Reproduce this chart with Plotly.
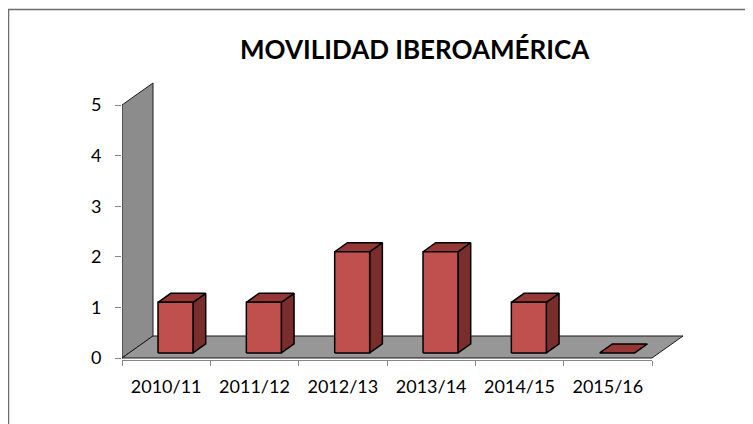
import plotly.graph_objects as go

# ---- data ----
categories = ["2010/11", "2011/12", "2012/13", "2013/14", "2014/15", "2015/16"]
values = [1, 1, 2, 2, 1, 0]
y_tick_values = [0, 1, 2, 3, 4, 5]
title_text = "MOVILIDAD IBEROAMÉRICA"

# ---- 3D-look styling constants (data units) ----
W, H = 753, 424
OFF = 8                         # page body margin offset
DX, DY = 0.351, 0.435          # full depth offset
F0, F1 = 0.23, 0.64            # bar front/back depth fractions
BAR_LEFT, BAR_W = 0.327, 0.396
Y_MIN, Y_MAX = -0.04, 5.6
X2_MAX = 6.6
WALL_TOP = max(y_tick_values)
N = len(categories)

FRONT = "#C0504D"
TOP = "#953735"
SIDE = "#7A2E2C"
WALL = "#8C8C8C"
FLOOR = "#979797"
EDGE = "#000000"

fig = go.Figure()


def poly(xs, ys, fill, line_color=EDGE, lw=1.5):
    fig.add_trace(go.Scatter(
        x=list(xs) + [xs[0]], y=list(ys) + [ys[0]], xaxis="x2", yaxis="y",
        mode="lines", fill="toself", fillcolor=fill,
        line=dict(color=line_color, width=lw), hoverinfo="skip", showlegend=False))


# back wall and floor
poly([0, 0, DX, DX], [0, WALL_TOP, WALL_TOP + DY, DY], WALL, "#1a1a1a", 1)
poly([0, N, N + DX, DX], [0, 0, DY, DY], FLOOR, "#1a1a1a", 1)

# bars
ddx, ddy = (F1 - F0) * DX, (F1 - F0) * DY
for i, v in enumerate(values):
    xl = i + BAR_LEFT + F0 * DX
    xr = xl + BAR_W
    b0 = F0 * DY
    top = b0 + v
    if v > 0:
        poly([xr, xr, xr + ddx, xr + ddx], [b0, top, top + ddy, b0 + ddy], SIDE)
    poly([xl, xr, xr + ddx, xl + ddx], [top, top, top + ddy, top + ddy], TOP)
    if v > 0:
        poly([xl, xr, xr, xl], [b0, b0, top, top], FRONT)

# category axis carrier (invisible) so the xy subplot draws its labels
fig.add_trace(go.Scatter(x=[0.5], y=[0], xaxis="x", yaxis="y", mode="markers",
                         marker=dict(opacity=0), hoverinfo="skip", showlegend=False))

# pixel geometry -> domains
x_left_px = 122 - OFF
px_per_x = 88.333
x_dom = [x_left_px / W, (x_left_px + N * px_per_x) / W]
x2_dom = [x_left_px / W, (x_left_px + X2_MAX * px_per_x) / W]
y0_px = 358 - OFF
px_per_y = 50.6
y_bot_px = y0_px - Y_MIN * px_per_y
y_top_px = y0_px - Y_MAX * px_per_y
y_dom = [(H - y_bot_px) / H, (H - y_top_px) / H]

font_family = "Lato, Carlito, 'Open Sans', sans-serif"

fig.update_layout(
    width=W, height=H,
    margin=dict(l=0, r=0, t=0, b=0, autoexpand=False),
    paper_bgcolor="white", plot_bgcolor="rgba(0,0,0,0)",
    showlegend=False,
    font=dict(family=font_family, size=18, color="#000000"),
    xaxis=dict(domain=x_dom, range=[0, N], anchor="y", automargin=False,
               tickvals=[i + 0.5 for i in range(N)], ticktext=categories,
               ticks="", showline=True, linecolor="#868686", linewidth=1,
               ticklabelstandoff=10,
               minor=dict(tick0=0, dtick=1, ticks="outside", ticklen=5,
                          tickcolor="#868686", tickwidth=1, showgrid=False),
               showgrid=False, zeroline=False, fixedrange=True,
               tickfont=dict(size=18, family=font_family, color="#000")),
    xaxis2=dict(domain=x2_dom, range=[0, X2_MAX], anchor="y", visible=False,
                automargin=False, showgrid=False, zeroline=False),
    yaxis=dict(domain=y_dom, range=[Y_MIN, Y_MAX], anchor="x", automargin=False,
               tickvals=y_tick_values, ticks="outside", ticklen=6,
               tickcolor="#868686", tickwidth=1, ticklabelstandoff=10,
               showline=False, showgrid=False, zeroline=False,
               tickfont=dict(size=18, family=font_family, color="#000")),
    annotations=[dict(text="<b>" + title_text + "</b>", xref="paper", yref="paper",
                      x=(415 - OFF) / W, y=(H - 49 + OFF) / H,
                      xanchor="center", yanchor="middle", showarrow=False,
                      font=dict(family=font_family, size=26, color="#000"))],
    shapes=[dict(type="rect", xref="paper", yref="paper",
                 x0=0.5 / W, x1=1.05, y0=-0.05, y1=(H - 1.5) / H,
                 line=dict(color="#6e6e6e", width=1.5), fillcolor="rgba(0,0,0,0)",
                 layer="below")],
)

fig.write_html("out.html")
